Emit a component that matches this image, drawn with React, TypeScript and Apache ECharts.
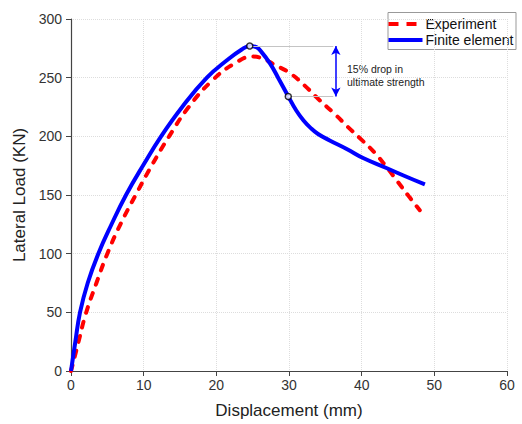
import React, { useEffect, useRef } from "react";
import * as echarts from "echarts";

// Experiment (dashed red)
const expX = [0, 1.0, 2.0, 3.5, 5.0, 6.8, 8.9, 11.1, 13.5, 16.2, 19.5, 22.5, 25, 26.5, 28, 30.1, 32.2, 34, 36.3, 38.1, 40, 41.8, 43.4, 45, 46.6, 48];
const expY = [0, 24, 48, 75, 100, 125, 150, 175, 200, 225, 248, 262, 268, 266, 261, 254, 243, 232, 219, 208, 197, 186, 174, 161, 148, 137];

// Finite element (solid blue)
const feX = [0, 0.6, 1.24, 2.3, 3.76, 5.5, 7.57, 10.1, 12.4, 15.3, 18.7, 21.5, 23.5, 24.6, 25.5, 26.2, 27.4, 28.5, 29.9, 31, 32, 33, 34, 35.6, 38, 40.2, 43.4, 46, 48.7];
const feY = [0, 25, 50, 75, 100, 124, 150, 177, 200, 225, 250, 265, 274, 277, 276, 272, 262, 250, 234, 222, 213.5, 207, 202, 196.5, 189, 181.5, 173, 166, 159];

// Annotation points (peak and 15% drop)
const markX = [24.6, 29.9];
const markY = [277, 234];
const arrowX = 36.45;
const guideEndX = 36.1;

const xTicks = { min: 0, max: 60, interval: 10 };
const yTicks = { min: 0, max: 300, interval: 50 };

const seriesNames = ["Experiment", "Finite element"];
const annotationLines = ["15% drop in", "ultimate strength"];

const FONT = "'Liberation Sans', Arial, sans-serif";
const RED = "#ff0000";
const BLUE = "#0000ff";

export default function App() {
  const ref = useRef<HTMLDivElement>(null);
  useEffect(() => {
    if (!ref.current) return;
    const chart = echarts.init(ref.current, null, { renderer: "svg" });
    const expData = expX.map((x, i) => [x, expY[i]]);
    const feData = feX.map((x, i) => [x, feY[i]]);
    const markData = markX.map((x, i) => [x, markY[i]]);
    chart.setOption({
      animation: false,
      backgroundColor: "#fff",
      textStyle: { fontFamily: FONT },
      grid: { left: 71, right: 15, top: 19, bottom: 52 },
      xAxis: {
        type: "value",
        min: xTicks.min,
        max: xTicks.max,
        interval: xTicks.interval,
        name: "Displacement (mm)",
        nameLocation: "middle",
        nameGap: 31,
        nameTextStyle: { fontSize: 17, color: "#222", fontFamily: FONT },
        axisLine: { show: true, onZero: false, lineStyle: { color: "#444", width: 1.2 } },
        axisTick: { show: true, length: 5, lineStyle: { color: "#444" } },
        axisLabel: { fontSize: 14, color: "#333", margin: 7, fontFamily: FONT },
        splitLine: { show: true, lineStyle: { color: "#ddd", type: "dotted", width: 1 } },
      },
      yAxis: {
        type: "value",
        min: yTicks.min,
        max: yTicks.max,
        interval: yTicks.interval,
        name: "Lateral Load (KN)",
        nameLocation: "middle",
        nameGap: 34,
        nameTextStyle: { fontSize: 17, color: "#222", fontFamily: FONT },
        axisLine: { show: true, lineStyle: { color: "#444", width: 1.2 } },
        axisTick: { show: true, length: 5, lineStyle: { color: "#444" } },
        axisLabel: { fontSize: 14, color: "#333", margin: 9, fontFamily: FONT },
        splitLine: { show: true, lineStyle: { color: "#ddd", type: "dotted", width: 1 } },
      },
      series: [
        {
          name: seriesNames[0],
          type: "line",
          data: expData,
          smooth: 0.45,
          symbol: "none",
          z: 2,
          itemStyle: { color: RED },
          lineStyle: { color: RED, width: 4, type: [6, 9], cap: "round" },
        },
        {
          name: seriesNames[1],
          type: "line",
          data: feData,
          smooth: 0.45,
          symbol: "none",
          z: 3,
          itemStyle: { color: BLUE },
          lineStyle: { color: BLUE, width: 4 },
        },
        {
          name: "marks",
          type: "scatter",
          data: markData,
          symbol: "circle",
          symbolSize: 6,
          z: 5,
          itemStyle: { color: "#fff", borderColor: "#000", borderWidth: 1.5 },
          markLine: {
            silent: true,
            symbol: ["none", "none"],
            label: { show: false },
            lineStyle: { color: "#c4c4c4", width: 1, type: "solid" },
            data: [
              [{ coord: [markX[0], markY[0]] }, { coord: [guideEndX, markY[0]] }],
              [{ coord: [markX[1], markY[1]] }, { coord: [guideEndX, markY[1]] }],
              [
                {
                  coord: [arrowX, markY[0]],
                  symbol: "arrow",
                  symbolSize: [7, 9],
                  lineStyle: { color: BLUE, width: 1.5 },
                },
                { coord: [arrowX, markY[1]], symbol: "arrow", symbolSize: [7, 9] },
              ],
            ],
          },
        },
      ],
      graphic: [
        {
          type: "text",
          left: 347,
          top: 62,
          style: {
            text: annotationLines.join("\n"),
            fontSize: 10.5,
            lineHeight: 13,
            fill: "#222",
            fontFamily: FONT,
          },
        },
        {
          type: "group",
          left: 386,
          top: 12,
          children: [
            {
              type: "rect",
              shape: { x: 0.5, y: 0.5, width: 128, height: 37 },
              style: { fill: "#fff", stroke: "#999", lineWidth: 1 },
            },
            {
              type: "line",
              shape: { x1: 1, y1: 12, x2: 30, y2: 12 },
              style: { stroke: RED, lineWidth: 4, lineDash: [10, 8] },
            },
            {
              type: "line",
              shape: { x1: 1, y1: 28, x2: 35, y2: 28 },
              style: { stroke: BLUE, lineWidth: 4 },
            },
            {
              type: "text",
              x: 38,
              y: 12,
              style: {
                text: seriesNames[0],
                fontSize: 14,
                fill: "#111",
                fontFamily: FONT,
                verticalAlign: "middle",
              },
            },
            {
              type: "text",
              x: 38,
              y: 28,
              style: {
                text: seriesNames[1],
                fontSize: 14,
                fill: "#111",
                fontFamily: FONT,
                verticalAlign: "middle",
              },
            },
          ],
        },
      ],
    });
    return () => chart.dispose();
  }, []);
  return (
    <div
      ref={ref}
      style={{ position: "fixed", left: 0, top: 0, width: 522, height: 424 }}
    />
  );
}
